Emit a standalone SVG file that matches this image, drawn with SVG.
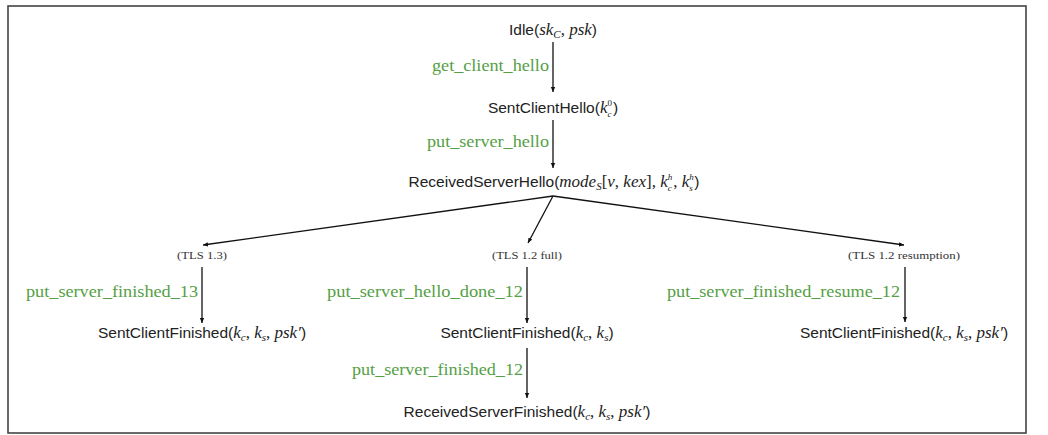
<svg xmlns="http://www.w3.org/2000/svg" width="1048" height="435" viewBox="0 0 1048 435">
<defs>
<marker id="ah" markerUnits="userSpaceOnUse" markerWidth="6" markerHeight="6" refX="5" refY="3" orient="auto">
<path d="M0,0.8 L5,3 L0,5.2 z" fill="#111"/>
</marker>
<style>
.n{font-family:"Liberation Sans","DejaVu Sans",sans-serif;font-size:15.5px;fill:#222;text-anchor:middle}
.m{font-family:"Liberation Serif","DejaVu Serif",serif;font-style:italic;font-size:17px}
.r{font-family:"Liberation Serif","DejaVu Serif",serif;font-style:normal;font-size:17px}
.s{font-size:11px}
.x{font-size:9px}
.g{font-family:"Liberation Serif","DejaVu Serif",serif;font-size:16px;fill:#55a045}
.t{font-family:"Liberation Serif","DejaVu Serif",serif;font-size:10px;fill:#333}
.e{stroke:#111;stroke-width:1.3;fill:none;marker-end:url(#ah)}
</style>
</defs>
<rect x="8" y="6" width="1018" height="427" fill="#fff" stroke="#444" stroke-width="1.6"/>
<g id="connectors">
<line class="e" x1="553" y1="42" x2="553" y2="92"/>
<line class="e" x1="553" y1="120" x2="553" y2="168"/>
<line class="e" x1="553" y1="196" x2="203" y2="245"/>
<line class="e" x1="553" y1="196" x2="528" y2="243"/>
<line class="e" x1="553" y1="196" x2="904" y2="245"/>
<line class="e" x1="202" y1="267" x2="202" y2="323"/>
<line class="e" x1="527" y1="267" x2="527" y2="323"/>
<line class="e" x1="527" y1="348" x2="527" y2="398"/>
<line class="e" x1="905" y1="267" x2="905" y2="322"/>
<text class="g" x="432" y="71" textLength="117" lengthAdjust="spacingAndGlyphs">get_client_hello</text>
<text class="g" x="427" y="147" textLength="122" lengthAdjust="spacingAndGlyphs">put_server_hello</text>
<text class="g" x="26" y="297" textLength="172" lengthAdjust="spacingAndGlyphs">put_server_finished_13</text>
<text class="g" x="327" y="297" textLength="196" lengthAdjust="spacingAndGlyphs">put_server_hello_done_12</text>
<text class="g" x="352" y="375" textLength="171" lengthAdjust="spacingAndGlyphs">put_server_finished_12</text>
<text class="g" x="667" y="297" textLength="233" lengthAdjust="spacingAndGlyphs">put_server_finished_resume_12</text>
</g>
<g id="idle"><text class="n" x="553" y="35">Idle(<tspan class="m">sk</tspan><tspan class="m s" dy="3">C</tspan><tspan class="r" dy="-3">, </tspan><tspan class="m">psk</tspan>)</text></g>
<g id="sentClientHello"><text class="n" x="553" y="113">SentClientHello(<tspan class="m">k</tspan><tspan class="r x" dy="-7">0</tspan><tspan class="m x" dx="-4.5" dy="11">c</tspan><tspan dy="-4" dx="1.5">)</tspan></text></g>
<g id="receivedServerHello"><text class="n" x="554" y="187">ReceivedServerHello(<tspan class="m">mode</tspan><tspan class="m s" dy="3">S</tspan><tspan class="r" dy="-3">[</tspan><tspan class="m">v</tspan><tspan class="r">, </tspan><tspan class="m">kex</tspan><tspan class="r">], </tspan><tspan class="m">k</tspan><tspan class="m x" dy="-7">h</tspan><tspan class="m x" dx="-4.5" dy="11">c</tspan><tspan class="r" dy="-4" dx="1.5">, </tspan><tspan class="m">k</tspan><tspan class="m x" dy="-7">h</tspan><tspan class="m x" dx="-4.5" dy="11">s</tspan><tspan dy="-4" dx="1.5">)</tspan></text></g>
<g id="tls13"><text class="t" x="177" y="259" textLength="50" lengthAdjust="spacingAndGlyphs">(TLS 1.3)</text></g>
<g id="tls12full"><text class="t" x="492" y="259" textLength="70" lengthAdjust="spacingAndGlyphs">(TLS 1.2 full)</text></g>
<g id="tls12resumption"><text class="t" x="848" y="259" textLength="112" lengthAdjust="spacingAndGlyphs">(TLS 1.2 resumption)</text></g>
<g id="sentClientFinished13"><text class="n" x="202" y="338">SentClientFinished(<tspan class="m">k</tspan><tspan class="m s" dy="3">c</tspan><tspan class="r" dy="-3">, </tspan><tspan class="m">k</tspan><tspan class="m s" dy="3">s</tspan><tspan class="r" dy="-3">, </tspan><tspan class="m">psk′</tspan>)</text></g>
<g id="sentClientFinished12"><text class="n" x="527" y="338">SentClientFinished(<tspan class="m">k</tspan><tspan class="m s" dy="3">c</tspan><tspan class="r" dy="-3">, </tspan><tspan class="m">k</tspan><tspan class="m s" dy="3">s</tspan><tspan dy="-3">)</tspan></text></g>
<g id="receivedServerFinished"><text class="n" x="527" y="417">ReceivedServerFinished(<tspan class="m">k</tspan><tspan class="m s" dy="3">c</tspan><tspan class="r" dy="-3">, </tspan><tspan class="m">k</tspan><tspan class="m s" dy="3">s</tspan><tspan class="r" dy="-3">, </tspan><tspan class="m">psk′</tspan>)</text></g>
<g id="sentClientFinishedResume"><text class="n" x="904" y="338">SentClientFinished(<tspan class="m">k</tspan><tspan class="m s" dy="3">c</tspan><tspan class="r" dy="-3">, </tspan><tspan class="m">k</tspan><tspan class="m s" dy="3">s</tspan><tspan class="r" dy="-3">, </tspan><tspan class="m">psk′</tspan>)</text></g>
</svg>
